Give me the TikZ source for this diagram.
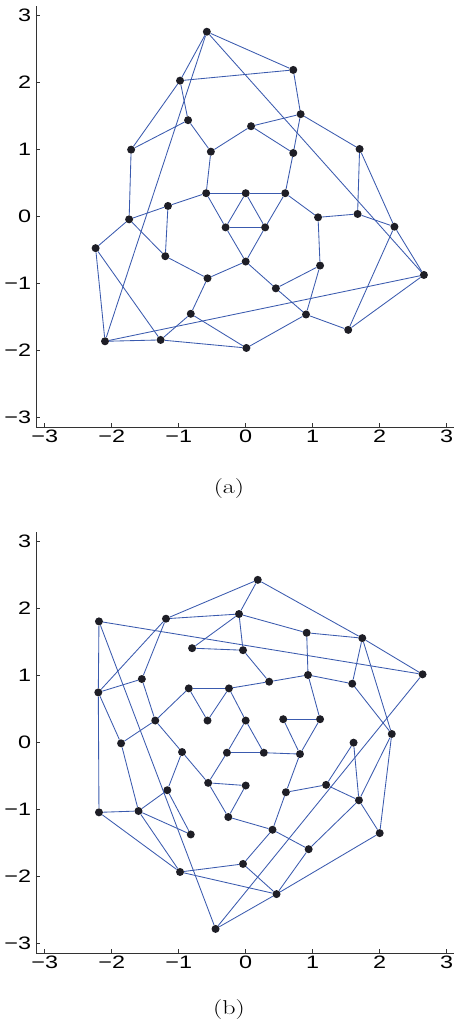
\documentclass[tikz,border=0pt]{standalone}
\usepackage{fontspec}
\usepackage{graphicx}
\newfontfamily\axfont{Liberation Sans}
\definecolor{PlotBlue}{HTML}{3A5AAE}
\definecolor{DotBlack}{HTML}{1E1E26}
\tikzset{
  vtx/.style={circle, fill=DotBlack, inner sep=0pt, minimum size=8bp},
  link/.style={draw=PlotBlue, line width=0.85bp},
  axisline/.style={draw=black!80, line width=0.9bp},
  ticklab/.style={inner sep=0pt, font=\axfont\fontsize{18bp}{18bp}\selectfont},
  panellab/.style={inner sep=0pt, font=\fontsize{20bp}{24bp}\selectfont},
}

\begin{document}
\begin{tikzpicture}
  \useasboundingbox (0,0) rectangle (454bp,1025bp);

  % (a)
  \begin{scope}[shift={(245.7bp,809bp)}, x=67bp, y=67bp]
    \draw[axisline] (-3.13,3.13) -- (-3.13,-3.15) -- (3.11,-3.15);
    \foreach \t/\s in {-3/−3,-2/−2,-1/−1,0/0,1/1,2/2,3/3} {
      \draw[axisline] (\t,-3.15) -- ++(0,0.055);
      \draw[axisline] (-3.13,\t) -- ++(0.055,0);
      \node[ticklab, anchor=north] at (\t,-3.19) {\scalebox{1.3}[1]{\s}};
      \node[ticklab, anchor=east] at (-3.2,\t) {\scalebox{1.3}[1]{\s}};
    }
    \node[vtx] (a1) at (-0.58,2.75) {};
    \node[vtx] (a2) at (0.71,2.18) {};
    \node[vtx] (a3) at (-0.98,2.02) {};
    \node[vtx] (a4) at (-0.86,1.43) {};
    \node[vtx] (a5) at (0.82,1.52) {};
    \node[vtx] (a6) at (0.08,1.34) {};
    \node[vtx] (a7) at (-1.71,0.99) {};
    \node[vtx] (a8) at (-0.52,0.96) {};
    \node[vtx] (a9) at (0.71,0.94) {};
    \node[vtx] (a10) at (1.70,1.00) {};
    \node[vtx] (a11) at (-0.59,0.34) {};
    \node[vtx] (a12) at (0,0.34) {};
    \node[vtx] (a13) at (0.59,0.34) {};
    \node[vtx] (a14) at (-1.16,0.15) {};
    \node[vtx] (a15) at (-1.74,-0.05) {};
    \node[vtx] (a16) at (-0.30,-0.17) {};
    \node[vtx] (a17) at (0.29,-0.17) {};
    \node[vtx] (a18) at (1.08,-0.02) {};
    \node[vtx] (a19) at (1.67,0.03) {};
    \node[vtx] (a20) at (2.22,-0.16) {};
    \node[vtx] (a21) at (-2.24,-0.48) {};
    \node[vtx] (a22) at (-1.20,-0.60) {};
    \node[vtx] (a23) at (0,-0.68) {};
    \node[vtx] (a24) at (-0.57,-0.93) {};
    \node[vtx] (a25) at (1.11,-0.74) {};
    \node[vtx] (a26) at (0.45,-1.08) {};
    \node[vtx] (a27) at (2.66,-0.88) {};
    \node[vtx] (a28) at (-0.82,-1.46) {};
    \node[vtx] (a29) at (0.90,-1.47) {};
    \node[vtx] (a30) at (1.53,-1.70) {};
    \node[vtx] (a31) at (-2.10,-1.87) {};
    \node[vtx] (a32) at (-1.27,-1.85) {};
    \node[vtx] (a33) at (0.01,-1.97) {};
    \foreach \u/\v in {1/2,1/3,1/27,1/31,2/3,2/5,3/4,3/7,4/7,4/8,5/6,5/9,5/10,6/8,6/9,
      7/15,8/11,9/13,10/19,10/20,11/12,11/14,11/16,12/13,12/16,12/17,13/17,13/18,
      14/15,14/22,15/21,15/22,16/17,16/23,17/23,18/19,18/25,19/20,20/27,20/30,
      21/31,21/32,22/24,23/24,23/26,24/28,25/26,25/29,26/29,27/30,27/31,28/32,
      28/33,29/30,29/33,31/32,32/33}
      \draw[link] (a\u) -- (a\v);
    \node[panellab] (capa) at (-0.25,-4.07) {\scalebox{1.3}[1]{(a)}};
  \end{scope}

  % (b)
  \begin{scope}[shift={(245.7bp,283bp)}, x=67bp, y=67bp]
    \draw[axisline] (-3.13,3.13) -- (-3.13,-3.15) -- (3.11,-3.15);
    \foreach \t/\s in {-3/−3,-2/−2,-1/−1,0/0,1/1,2/2,3/3} {
      \draw[axisline] (\t,-3.15) -- ++(0,0.055);
      \draw[axisline] (-3.13,\t) -- ++(0.055,0);
      \node[ticklab, anchor=north] at (\t,-3.19) {\scalebox{1.3}[1]{\s}};
      \node[ticklab, anchor=east] at (-3.2,\t) {\scalebox{1.3}[1]{\s}};
    }
    \node[vtx] (b1) at (0.18,2.42) {};
    \node[vtx] (b2) at (-0.10,1.91) {};
    \node[vtx] (b3) at (-1.19,1.84) {};
    \node[vtx] (b4) at (-2.19,1.80) {};
    \node[vtx] (b5) at (0.91,1.63) {};
    \node[vtx] (b6) at (1.74,1.55) {};
    \node[vtx] (b7) at (-0.80,1.40) {};
    \node[vtx] (b8) at (-0.04,1.37) {};
    \node[vtx] (b9) at (2.64,1.01) {};
    \node[vtx] (b10) at (0.93,1.00) {};
    \node[vtx] (b11) at (0.35,0.90) {};
    \node[vtx] (b12) at (1.59,0.87) {};
    \node[vtx] (b13) at (-1.55,0.94) {};
    \node[vtx] (b14) at (-0.85,0.80) {};
    \node[vtx] (b15) at (-0.25,0.80) {};
    \node[vtx] (b16) at (-2.20,0.74) {};
    \node[vtx] (b17) at (-1.35,0.32) {};
    \node[vtx] (b18) at (-0.57,0.32) {};
    \node[vtx] (b19) at (0.00,0.32) {};
    \node[vtx] (b20) at (0.56,0.34) {};
    \node[vtx] (b21) at (1.11,0.34) {};
    \node[vtx] (b22) at (2.18,0.12) {};
    \node[vtx] (b23) at (-1.86,-0.02) {};
    \node[vtx] (b24) at (1.61,-0.01) {};
    \node[vtx] (b25) at (-0.95,-0.15) {};
    \node[vtx] (b26) at (-0.28,-0.16) {};
    \node[vtx] (b27) at (0.27,-0.16) {};
    \node[vtx] (b28) at (0.81,-0.18) {};
    \node[vtx] (b29) at (-0.56,-0.61) {};
    \node[vtx] (b30) at (0.00,-0.65) {};
    \node[vtx] (b31) at (1.20,-0.64) {};
    \node[vtx] (b32) at (-1.17,-0.72) {};
    \node[vtx] (b33) at (0.60,-0.75) {};
    \node[vtx] (b34) at (1.69,-0.87) {};
    \node[vtx] (b35) at (-2.19,-1.05) {};
    \node[vtx] (b36) at (-1.60,-1.03) {};
    \node[vtx] (b37) at (-0.26,-1.12) {};
    \node[vtx] (b38) at (-0.82,-1.38) {};
    \node[vtx] (b39) at (0.40,-1.31) {};
    \node[vtx] (b40) at (2.00,-1.36) {};
    \node[vtx] (b41) at (0.94,-1.60) {};
    \node[vtx] (b42) at (-0.04,-1.82) {};
    \node[vtx] (b43) at (-0.98,-1.94) {};
    \node[vtx] (b44) at (0.46,-2.27) {};
    \node[vtx] (b45) at (-0.45,-2.79) {};
    \foreach \u/\v in {1/2,1/3,1/6,2/3,2/5,2/7,2/8,3/13,3/16,4/9,4/16,4/45,5/6,5/10,
      6/9,6/12,6/22,7/8,8/11,9/45,10/11,10/12,10/21,11/15,12/22,13/16,13/17,14/15,
      14/17,14/18,15/18,15/19,16/23,16/35,17/23,17/25,19/26,19/27,20/21,20/28,
      21/28,22/34,22/40,23/36,24/31,24/34,25/29,25/32,26/27,26/29,27/28,28/33,
      29/30,29/37,30/37,31/33,31/34,32/36,32/38,33/39,34/40,34/41,35/36,35/43,
      36/38,36/43,37/39,39/41,39/42,40/44,41/44,42/43,42/44,43/44,44/45}
      \draw[link] (b\u) -- (b\v);
    \node[panellab] (capb) at (-0.25,-4.0) {\scalebox{1.3}[1]{(b)}};
  \end{scope}
\end{tikzpicture}
\end{document}
